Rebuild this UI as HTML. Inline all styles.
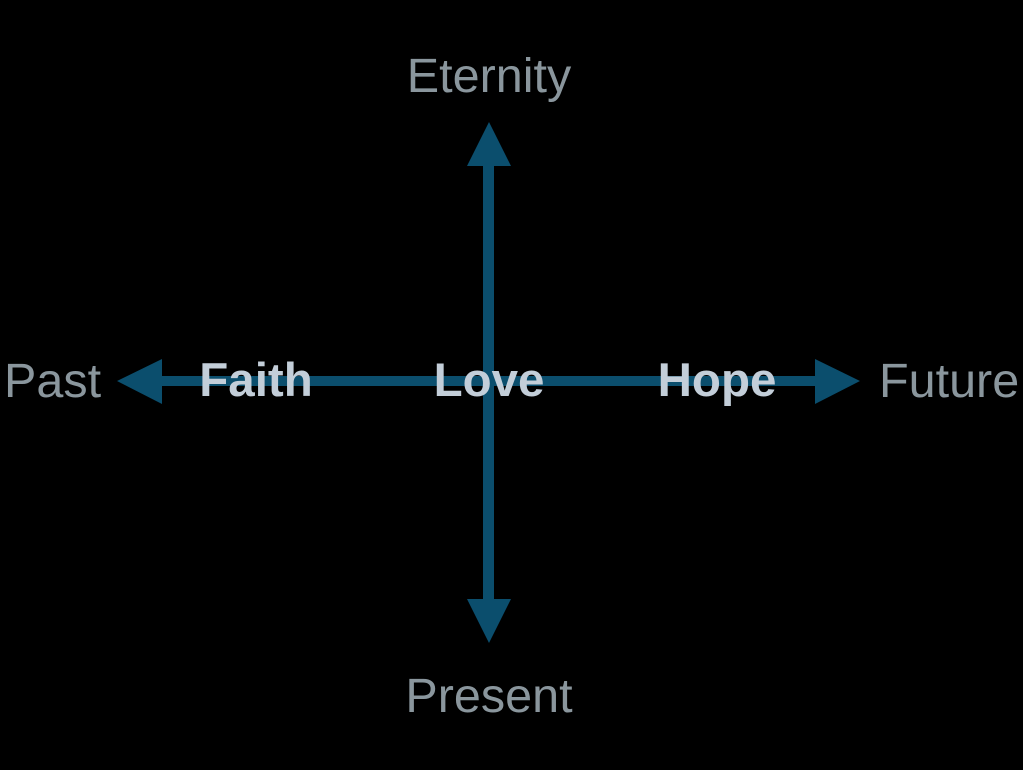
<!DOCTYPE html>
<html><head><style>
body{margin:0;background:#000;width:1023px;height:770px;overflow:hidden}
svg{display:block}
.l{font-family:"Liberation Sans",sans-serif;font-size:48.5px;fill:#8a969d}
.b{font-family:"Liberation Sans",sans-serif;font-size:47.5px;font-weight:bold;fill:#c3ced9}
</style></head><body>
<svg width="1023" height="770" xmlns="http://www.w3.org/2000/svg">
<g fill="#0b4e6d">
<rect x="483" y="160" width="11" height="445"/>
<rect x="158" y="376" width="662" height="10"/>
<polygon points="489,122 467,166 511,166"/>
<polygon points="489,643 467,599 511,599"/>
<polygon points="117,381 162,359 162,404"/>
<polygon points="860,381 815,359 815,404"/>
</g>
<text class="l" x="489" y="92" text-anchor="middle">Eternity</text>
<text class="l" x="489" y="712" text-anchor="middle">Present</text>
<text class="l" x="4" y="397">Past</text>
<text class="l" x="879" y="397">Future</text>
<text class="b" x="256" y="396" text-anchor="middle">Faith</text>
<text class="b" x="489" y="396" text-anchor="middle">Love</text>
<text class="b" x="717" y="396" text-anchor="middle">Hope</text>
</svg>
</body></html>
